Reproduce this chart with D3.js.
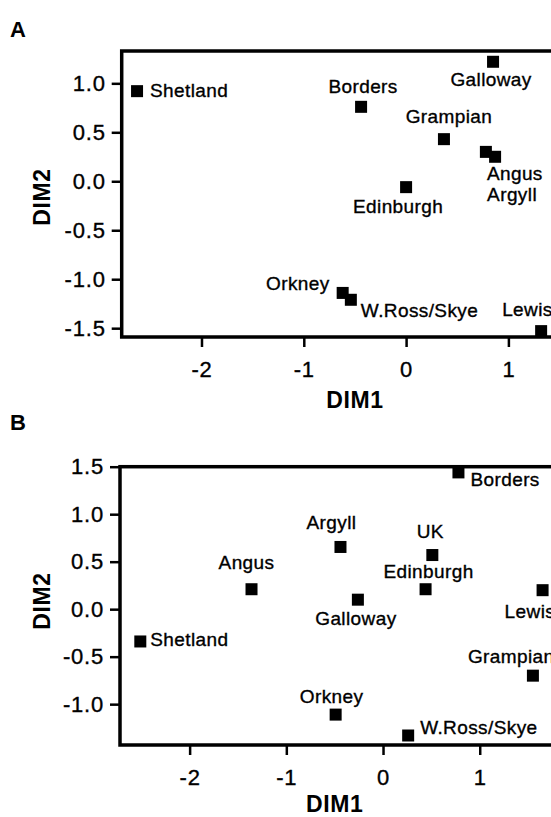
<!DOCTYPE html>
<html>
<head>
<meta charset="UTF-8">
<title>MDS plots</title>
<script src="https://cdn.jsdelivr.net/npm/d3@7"></script>
<style>
  body { margin: 0; background: #fff; }
  svg { display: block; font-family: "Liberation Sans", Arial, Helvetica, sans-serif; }
  .lbl { font-size: 19px; letter-spacing: 0.4px; fill: #000; stroke: #000; stroke-width: 0.35px; }
  .tick text { font-size: 22px; letter-spacing: 0.8px; fill: #000; stroke: #000; stroke-width: 0.35px; }
  .title { font-size: 23px; font-weight: bold; letter-spacing: 0.6px; }
  .panel { font-size: 22px; font-weight: bold; }
</style>
</head>
<body>
<div id="chart"></div>
<script>
// panel A
const namesA = ["Shetland", "Borders", "Galloway", "Grampian", "Angus", "Argyll", "Edinburgh", "Orkney", "W.Ross/Skye", "Lewis"];
const dim1A  = [-2.63, -0.44, 0.85, 0.37, 0.78, 0.87, 0.00, -0.62, -0.54, 1.32];
const dim2A  = [0.92, 0.76, 1.22, 0.43, 0.30, 0.25, -0.06, -1.14, -1.21, -1.53];

// panel B
const namesB = ["Shetland", "Angus", "Argyll", "Galloway", "UK", "Edinburgh", "Borders", "Lewis", "Grampian", "Orkney", "W.Ross/Skye"];
const dim1B  = [-2.51, -1.36, -0.44, -0.26, 0.51, 0.44, 0.78, 1.65, 1.55, -0.49, 0.26];
const dim2B  = [-0.34, 0.21, 0.655, 0.10, 0.57, 0.21, 1.44, 0.20, -0.70, -1.11, -1.33];

const xTicks  = [-2, -1, 0, 1];
const yTicksA = [1.0, 0.5, 0.0, -0.5, -1.0, -1.5];
const yTicksB = [1.5, 1.0, 0.5, 0.0, -0.5, -1.0];

// label placement relative to marker: [dx, dy, anchor]
const placeA = {
  "Shetland": [13, 6, "start"], "Borders": [2, -14, "middle"], "Galloway": [-2, 24, "middle"],
  "Grampian": [5, -16, "middle"], "Angus": [1, 28, "start"], "Argyll": [-8, 44, "start"],
  "Edinburgh": [-8, 26, "middle"], "Orkney": [-13, -3, "end"], "W.Ross/Skye": [10, 17, "start"],
  "Lewis": [-39, -15, "start"]
};
const placeB = {
  "Shetland": [10, 5, "start"], "Angus": [-5, -20, "middle"], "Argyll": [-9, -18, "middle"],
  "Galloway": [-2, 25, "middle"], "UK": [-2, -17, "middle"], "Edinburgh": [3, -11, "middle"],
  "Borders": [12, 14, "start"], "Lewis": [-38, 28, "start"], "Grampian": [-65, -13, "start"],
  "Orkney": [-4, -12, "middle"], "W.Ross/Skye": [12, -2, "start"]
};

const W = 551, H = 817;
const svg = d3.select("#chart").append("svg").attr("width", W).attr("height", H);

function panel(o) {
  const x = d3.scaleLinear().domain(o.xDom).range(o.xRange);
  const y = d3.scaleLinear().domain(o.yDom).range(o.yRange);
  const g = svg.append("g");

  g.append("rect")
    .attr("x", o.xRange[0]).attr("y", o.yRange[1])
    .attr("width", o.xRange[1] - o.xRange[0]).attr("height", o.yRange[0] - o.yRange[1])
    .attr("fill", "none").attr("stroke", "#000").attr("stroke-width", 3.5);

  const ax = g.append("g")
    .attr("transform", `translate(0,${o.yRange[0]})`)
    .call(d3.axisBottom(x).tickValues(xTicks).tickSize(10).tickPadding(14).tickFormat(d => String(d)));
  const ay = g.append("g")
    .attr("transform", `translate(${o.xRange[0]},0)`)
    .call(d3.axisLeft(y).tickValues(o.yTicks).tickSize(10).tickPadding(6).tickFormat(d => d.toFixed(1)));
  [ax, ay].forEach(a => {
    a.attr("font-family", null).attr("font-size", null);
    a.select(".domain").remove();
    a.selectAll(".tick line").attr("stroke-width", 2.5);
  });

  const pts = o.names.map((n, i) => ({ n, a: o.d1[i], b: o.d2[i] }));
  const s = 12;
  g.selectAll("rect.pt").data(pts).enter().append("rect")
    .attr("class", "pt")
    .attr("x", d => x(d.a) - s / 2).attr("y", d => y(d.b) - s / 2)
    .attr("width", s).attr("height", s).attr("fill", "#000");

  g.selectAll("text.lbl").data(pts).enter().append("text")
    .attr("class", "lbl")
    .attr("x", d => x(d.a) + o.place[d.n][0])
    .attr("y", d => y(d.b) + o.place[d.n][1])
    .attr("text-anchor", d => o.place[d.n][2])
    .text(d => d.n);

  g.append("text").attr("class", "title")
    .attr("x", x(-0.5)).attr("y", o.xTitleY).attr("text-anchor", "middle").text("DIM1");
  g.append("text").attr("class", "title")
    .attr("transform", `translate(50,${o.yTitleY}) rotate(-90)`)
    .attr("text-anchor", "middle").text("DIM2");
  g.append("text").attr("class", "panel")
    .attr("x", o.tag[0]).attr("y", o.tag[1]).text(o.tagText);
}

panel({
  names: namesA, d1: dim1A, d2: dim2A, place: placeA, yTicks: yTicksA,
  xDom: [-2.78, 1.9], xRange: [121.7, 121.7 + 4.68 * 102.3],
  yDom: [-1.59, 1.33], yRange: [337, 51],
  xTitleY: 408, yTitleY: 197, tag: [10, 37], tagText: "A"
});

panel({
  names: namesB, d1: dim1B, d2: dim2B, place: placeB, yTicks: yTicksB,
  xDom: [-2.72, 1.9], xRange: [120, 120 + 4.62 * 96.7],
  yDom: [-1.43, 1.5], yRange: [745, 466.7],
  xTitleY: 812, yTitleY: 601, tag: [10, 430], tagText: "B"
});
</script>
</body>
</html>
